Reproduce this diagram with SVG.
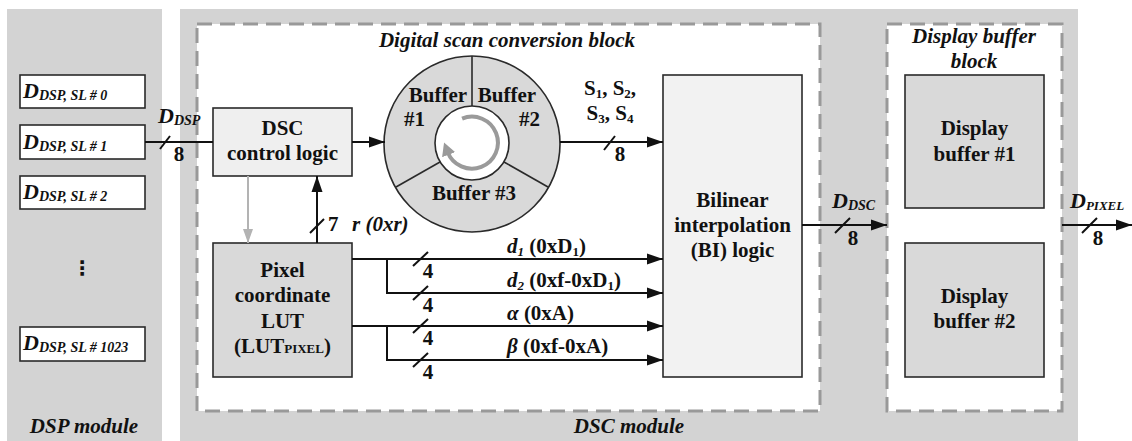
<svg xmlns="http://www.w3.org/2000/svg" width="1132" height="441" viewBox="0 0 1132 441">
  <style>
    .panel { fill: #d3d3d3; }
    .dash { fill: #ffffff; stroke: #999999; stroke-width: 3; stroke-dasharray: 15 8; }
    .box { stroke: #2a2a2a; stroke-width: 1.6; }
    .t { font-family: 'Liberation Serif', 'DejaVu Serif', serif; font-weight: bold; font-size: 21px; fill: #111; }
    .i { font-style: italic; }
    .c { text-anchor: middle; }
    .wire { fill: none; stroke: #111; stroke-width: 2; }
    .tick { fill: none; stroke: #111; stroke-width: 2; }
  </style>
  <defs>
    <marker id="ah" markerUnits="userSpaceOnUse" markerWidth="16" markerHeight="12" refX="16" refY="6" orient="auto">
      <path d="M0,0.5 L16,6 L0,11.5 z" fill="#111"/>
    </marker>
    <marker id="ahg" markerUnits="userSpaceOnUse" markerWidth="14" markerHeight="12" refX="14" refY="6" orient="auto">
      <path d="M0,1 L14,6 L0,11 z" fill="#b3b3b3"/>
    </marker>
    <marker id="ahr" markerUnits="userSpaceOnUse" markerWidth="14" markerHeight="14" refX="3" refY="7" orient="auto">
      <path d="M0,0 L13,7 L0,14 z" fill="#9a9a9a"/>
    </marker>
  </defs>

  <!-- module panels -->
  <rect class="panel" x="7" y="9" width="155" height="440"/>
  <rect class="panel" x="180" y="9" width="898" height="440"/>
  <rect class="dash" x="197" y="24" width="623" height="387"/>
  <rect class="dash" x="887" y="24" width="175" height="387"/>

  <g font-family="Liberation Serif, serif">
  <text class="t i c" x="84" y="433">DSP module</text>
  <text class="t i c" x="629" y="433">DSC module</text>
  <text class="t i c" x="507" y="47">Digital scan conversion block</text>
  <text class="t i c" x="974" y="43">Display buffer</text>
  <text class="t i c" x="974" y="68">block</text>

  <!-- scan line buffers of the DSP module -->
  <g id="sl0">
    <rect class="box" x="20" y="75" width="125" height="33" fill="#fff"/>
    <text class="t i" x="23" y="98"><tspan font-size="22">D</tspan><tspan font-size="14" dy="2">DSP, SL # 0</tspan></text>
  </g>
  <g id="sl1">
    <rect class="box" x="20" y="125" width="125" height="34" fill="#fff"/>
    <text class="t i" x="23" y="149"><tspan font-size="22">D</tspan><tspan font-size="14" dy="2">DSP, SL # 1</tspan></text>
  </g>
  <g id="sl2">
    <rect class="box" x="20" y="176" width="125" height="33" fill="#fff"/>
    <text class="t i" x="23" y="199"><tspan font-size="22">D</tspan><tspan font-size="14" dy="2">DSP, SL # 2</tspan></text>
  </g>
  <text class="c" x="82" y="275" font-family="DejaVu Sans, sans-serif" font-size="20" font-weight="bold" fill="#111">⋮</text>
  <g id="sl1023">
    <rect class="box" x="20" y="327" width="125" height="34" fill="#fff"/>
    <text class="t i" x="23" y="350"><tspan font-size="22">D</tspan><tspan font-size="14" dy="2">DSP, SL # 1023</tspan></text>
  </g>

  <!-- DSC control logic -->
  <g id="dsc-ctrl">
    <rect class="box" x="213" y="108" width="139" height="68" fill="#efefef"/>
    <text class="t c" x="282.5" y="135">DSC</text>
    <text class="t c" x="282.5" y="160">control logic</text>
  </g>

  <!-- ring of three line buffers -->
  <g id="ring">
    <circle cx="472" cy="144" r="88" fill="#d9d9d9" stroke="#2a2a2a" stroke-width="1.6"/>
    <circle cx="472" cy="143" r="37" fill="#fff" stroke="#2a2a2a" stroke-width="1.6"/>
    <line x1="472" y1="56" x2="472" y2="106" stroke="#2a2a2a" stroke-width="1.6"/>
    <line x1="504" y1="162" x2="548" y2="187" stroke="#2a2a2a" stroke-width="1.6"/>
    <line x1="440" y1="162" x2="396" y2="187" stroke="#2a2a2a" stroke-width="1.6"/>
    <path d="M462.1,118.6 A26,26 0 1 1 447.6,151.9" fill="none" stroke="#9a9a9a" stroke-width="4" marker-end="url(#ahr)"/>
    <text class="t c" x="438" y="102">Buffer</text>
    <text class="t" x="404" y="126">#1</text>
    <text class="t c" x="507" y="102">Buffer</text>
    <text class="t" x="540" y="126" text-anchor="end">#2</text>
    <text class="t c" x="474" y="200">Buffer #3</text>
  </g>

  <!-- pixel coordinate look-up table -->
  <g id="lut">
    <rect class="box" x="213" y="243" width="139" height="134" fill="#d9d9d9"/>
    <text class="t c" x="282.5" y="277">Pixel</text>
    <text class="t c" x="282.5" y="302">coordinate</text>
    <text class="t c" x="282.5" y="328">LUT</text>
    <text class="t c" x="282.5" y="353">(LUT<tspan font-size="13">PIXEL</tspan>)</text>
  </g>

  <!-- bilinear interpolation -->
  <g id="bi">
    <rect class="box" x="663" y="75" width="139" height="302" fill="#f2f2f2"/>
    <text class="t c" x="732.5" y="207">Bilinear</text>
    <text class="t c" x="732.5" y="232">interpolation</text>
    <text class="t c" x="732.5" y="257">(BI) logic</text>
  </g>

  <!-- display buffers -->
  <g id="disp1">
    <rect class="box" x="905" y="75" width="139" height="133" fill="#d9d9d9"/>
    <text class="t c" x="974.5" y="135">Display</text>
    <text class="t c" x="974.5" y="161">buffer #1</text>
  </g>
  <g id="disp2">
    <rect class="box" x="905" y="243" width="139" height="134" fill="#d9d9d9"/>
    <text class="t c" x="974.5" y="303">Display</text>
    <text class="t c" x="974.5" y="328">buffer #2</text>
  </g>

  <g id="connectors">
    <!-- D_DSP input -->
    <line class="wire" x1="145" y1="142" x2="213" y2="142"/>
    <line class="tick" x1="160" y1="149" x2="170" y2="136"/>
    <text class="t i" x="158" y="123"><tspan font-size="22">D</tspan><tspan font-size="14" dy="2">DSP</tspan></text>
    <text class="t c" x="179" y="161" font-size="22">8</text>

    <!-- control logic to ring buffer -->
    <line class="wire" x1="352" y1="142" x2="385" y2="142" marker-end="url(#ah)"/>

    <!-- control logic to LUT (grey) -->
    <line x1="248" y1="176" x2="248" y2="243" stroke="#b3b3b3" stroke-width="2" marker-end="url(#ahg)"/>

    <!-- LUT r value back to control logic -->
    <line class="wire" x1="317" y1="243" x2="317" y2="176" marker-end="url(#ah)"/>
    <line class="tick" x1="310" y1="233" x2="324" y2="219"/>
    <text class="t" x="328" y="231">7</text>
    <text class="t i" x="352" y="231">r (0xr)</text>

    <!-- ring buffer samples to BI -->
    <line class="wire" x1="560" y1="142" x2="663" y2="142" marker-end="url(#ah)"/>
    <line class="tick" x1="604" y1="150" x2="615" y2="136"/>
    <text class="t c" x="610" y="95">S<tspan font-size="13" dy="3">1</tspan><tspan dy="-3">, S</tspan><tspan font-size="13" dy="3">2</tspan><tspan dy="-3">,</tspan></text>
    <text class="t c" x="610" y="120">S<tspan font-size="13" dy="3">3</tspan><tspan dy="-3">, S</tspan><tspan font-size="13" dy="3">4</tspan></text>
    <text class="t c" x="620" y="161" font-size="22">8</text>

    <!-- LUT outputs to BI -->
    <polyline class="wire" points="352,259 663,259" marker-end="url(#ah)"/>
    <polyline class="wire" points="387,259 387,293 663,293" marker-end="url(#ah)"/>
    <polyline class="wire" points="352,326 663,326" marker-end="url(#ah)"/>
    <polyline class="wire" points="387,326 387,360 663,360" marker-end="url(#ah)"/>
    <line class="tick" x1="413" y1="266" x2="428" y2="252"/>
    <line class="tick" x1="413" y1="300" x2="428" y2="286"/>
    <line class="tick" x1="413" y1="333" x2="428" y2="319"/>
    <line class="tick" x1="413" y1="367" x2="428" y2="353"/>
    <text class="t c" x="428" y="278">4</text>
    <text class="t c" x="428" y="312">4</text>
    <text class="t c" x="428" y="345">4</text>
    <text class="t c" x="428" y="379">4</text>
    <text class="t" x="507" y="253"><tspan class="i">d</tspan><tspan class="i" font-size="13" dy="3">1</tspan><tspan dy="-3"> (0xD</tspan><tspan font-size="13" dy="3">1</tspan><tspan dy="-3">)</tspan></text>
    <text class="t" x="507" y="287"><tspan class="i">d</tspan><tspan class="i" font-size="13" dy="3">2</tspan><tspan dy="-3"> (0xf-0xD</tspan><tspan font-size="13" dy="3">1</tspan><tspan dy="-3">)</tspan></text>
    <text class="t" x="507" y="320"><tspan class="i">α</tspan>  (0xA)</text>
    <text class="t" x="507" y="353"><tspan class="i">β</tspan>  (0xf-0xA)</text>

    <!-- BI output to display buffers -->
    <line class="wire" x1="802" y1="225" x2="887" y2="225" marker-end="url(#ah)"/>
    <line class="tick" x1="835" y1="233" x2="850" y2="218"/>
    <text class="t i" x="832" y="208"><tspan font-size="22">D</tspan><tspan font-size="14" dy="2">DSC</tspan></text>
    <text class="t c" x="853" y="245" font-size="22">8</text>

    <!-- pixel output -->
    <line class="wire" x1="1062" y1="225" x2="1132" y2="225" marker-end="url(#ah)"/>
    <line class="tick" x1="1082" y1="233" x2="1097" y2="218"/>
    <text class="t i" x="1070" y="208"><tspan font-size="22">D</tspan><tspan font-size="13" dy="2">PIXEL</tspan></text>
    <text class="t c" x="1098" y="245" font-size="22">8</text>
  </g>
  </g>
</svg>
